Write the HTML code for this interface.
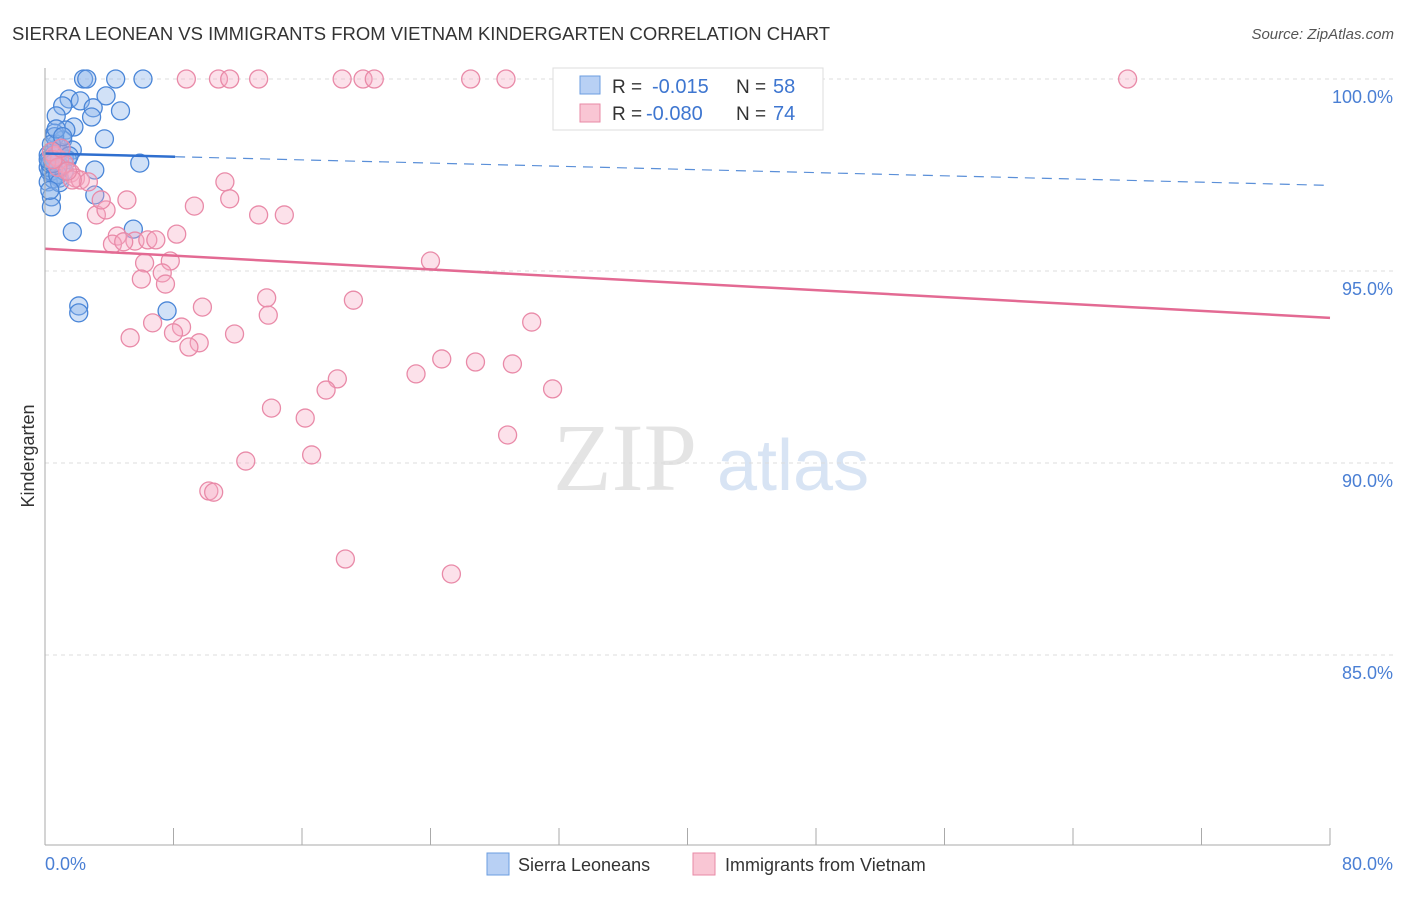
<!DOCTYPE html>
<html><head><meta charset="utf-8"><style>
body{margin:0;background:#fff;font-family:"Liberation Sans",sans-serif}
</style></head><body>
<svg width="1406" height="892" id="c" xmlns="http://www.w3.org/2000/svg" font-family="Liberation Sans, sans-serif">
<text x="12" y="40" font-size="18" fill="#333" textLength="818" lengthAdjust="spacingAndGlyphs">SIERRA LEONEAN VS IMMIGRANTS FROM VIETNAM KINDERGARTEN CORRELATION CHART</text>
<text x="1394" y="39" font-size="15" fill="#555" text-anchor="end" font-style="italic">Source: ZipAtlas.com</text>
<text x="553" y="490" font-size="96" fill="#e4e4e4" font-family="Liberation Serif, serif">ZIP</text>
<text x="717" y="490" font-size="72" fill="#d8e4f4">atlas</text>
<text x="34" y="456" font-size="18" fill="#333" transform="rotate(-90 34 456)" text-anchor="middle">Kindergarten</text>
<g id="grid"></g><g id="marks"></g>
<line x1="45" y1="68" x2="45" y2="845" stroke="#aaa"/>
<line x1="45" y1="845" x2="1330" y2="845" stroke="#aaa"/>
<text x="45" y="870" font-size="18" fill="#4a7fd4">0.0%</text>
<text x="1393" y="870" font-size="18" fill="#4a7fd4" text-anchor="end">80.0%</text>
<g>
<rect x="553" y="68" width="270" height="62" fill="#fff" stroke="#ddd"/>
<rect x="580" y="76" width="20" height="18" fill="#b8d0f4" stroke="#6b9ee0"/>
<rect x="580" y="104" width="20" height="18" fill="#f9c6d4" stroke="#e88aa6"/>
<text x="612" y="93" font-size="19" fill="#333">R =</text>
<text x="652" y="93" font-size="20" fill="#3e76d0">-0.015</text>
<text x="736" y="93" font-size="19" fill="#333">N =</text>
<text x="773" y="93" font-size="20" fill="#3e76d0">58</text>
<text x="612" y="120" font-size="19" fill="#333">R =</text>
<text x="646" y="120" font-size="20" fill="#3e76d0">-0.080</text>
<text x="736" y="120" font-size="19" fill="#333">N =</text>
<text x="773" y="120" font-size="20" fill="#3e76d0">74</text>
</g>
<g>
<rect x="487" y="853" width="22" height="22" fill="#b8d0f4" stroke="#6b9ee0"/>
<text x="518" y="871" font-size="18" fill="#333">Sierra Leoneans</text>
<rect x="693" y="853" width="22" height="22" fill="#f9c6d4" stroke="#e88aa6"/>
<text x="725" y="871" font-size="18" fill="#333">Immigrants from Vietnam</text>
</g>
</svg>
<script>
const yTicks=[100,95,90,85];
const yTickLabels=["100.0%","95.0%","90.0%","85.0%"];
const blueX=[2.4,2.6,4.4,6.1,3.8,1.5,2.2,1.1,3.0,4.7,0.7,2.9,1.8,1.3,0.6,3.7,1.1,0.6,1.7,0.2,1.2,5.9,3.1,0.3,0.6,0.9,0.2,3.1,0.4,0.4,5.5,1.7,2.1,2.1,7.6,0.3,0.5,0.8,1.0,0.4,0.7,0.9,1.4,0.2,0.5,0.6,1.0,1.2,0.3,0.8,0.4,1.5,0.7,0.2,0.9,1.1,0.5,0.3];
const blueY=[100,100,100,100,99.56,99.48,99.43,99.3,99.25,99.17,99.04,99.01,98.75,98.67,98.59,98.44,98.41,98.15,98.15,98.02,97.94,97.81,97.63,97.58,97.5,97.42,97.32,96.98,96.93,96.67,96.09,96.02,94.09,93.91,93.96,97.9,98.0,97.8,97.7,97.6,98.3,98.1,97.9,97.7,97.4,98.5,98.2,97.6,97.8,97.5,98.3,98.0,98.7,97.9,97.3,98.5,97.8,97.1];
const pinkX=[8.8,10.8,11.5,13.3,18.5,19.8,20.5,26.5,28.7,67.4,11.2,11.5,9.3,5.1,8.2,13.3,14.9,3.2,3.8,4.5,4.2,5.6,6.4,6.9,4.9,7.8,6.2,7.3,6.0,7.5,24.0,13.8,19.2,9.8,13.9,6.7,8.5,30.3,8.0,11.8,5.3,9.6,8.96,24.7,26.8,29.1,23.1,18.2,17.5,31.6,14.1,16.2,28.8,16.6,12.5,10.2,10.5,18.7,25.3,0.6,0.9,1.2,1.6,1.9,2.2,2.7,3.5,1.7,0.4,0.8,1.4,0.5,1.0];
const pinkY=[100,100,100,100,100,100,100,100,100,100,97.32,96.88,96.69,96.85,95.96,96.46,96.46,96.46,96.59,95.91,95.7,95.78,95.81,95.81,95.76,95.26,95.21,94.95,94.79,94.66,95.26,94.3,94.24,94.06,93.85,93.65,93.54,93.67,93.39,93.36,93.26,93.13,93.02,92.71,92.63,92.58,92.32,92.19,91.9,91.93,91.43,91.17,90.73,90.21,90.05,89.27,89.24,87.5,87.11,98.0,97.9,97.8,97.55,97.42,97.37,97.32,96.85,97.37,98.1,97.7,97.6,97.9,98.2];
const blueTrend=[98.06,97.23], blueSolidEnd=8.1;
const pinkTrend=[95.58,93.78];
const X=v=>45+v/80*1285, Y=v=>79+(100-v)*38.4;
const NS="http://www.w3.org/2000/svg";
function mk(tag,attrs,parent){const e=document.createElementNS(NS,tag);for(const k in attrs)e.setAttribute(k,attrs[k]);parent.appendChild(e);return e;}
const grid=document.getElementById('grid'),marks=document.getElementById('marks');
yTicks.forEach((t,i)=>{
 const l=mk('line',{x1:45,x2:1393,y1:Y(t),y2:Y(t),stroke:'#ddd','stroke-dasharray':'4 4'},grid);
 
 
 const tx=mk('text',{x:1393,y:Y(t)+24,'font-size':18,fill:'#4a7fd4','text-anchor':'end'},grid);
 tx.textContent=yTickLabels[i];
 
 
});
for(let k=1;k<=10;k++){
 const l=mk('line',{x1:X(k*8),x2:X(k*8),y1:828,y2:845,stroke:'#aaa'},grid);
 
 
}
blueX.forEach((x,i)=>{
 const c=mk('circle',{cx:X(x),cy:Y(blueY[i]),r:9,fill:'rgba(140,180,235,0.4)',stroke:'#4a86d8','stroke-width':1.3},marks);
 
 
});
pinkX.forEach((x,i)=>{
 const c=mk('circle',{cx:X(x),cy:Y(pinkY[i]),r:9,fill:'rgba(245,170,195,0.35)',stroke:'#e98aa8','stroke-width':1.3},marks);
 
 
});
const bAt=x=>blueTrend[0]+(blueTrend[1]-blueTrend[0])*x/80;
let l=mk('line',{x1:X(0),y1:Y(bAt(0)),x2:X(blueSolidEnd),y2:Y(bAt(blueSolidEnd)),stroke:'#2f6fcf','stroke-width':2.5},marks);


l=mk('line',{x1:X(blueSolidEnd),y1:Y(bAt(blueSolidEnd)),x2:X(80),y2:Y(bAt(80)),stroke:'#5a8fd8','stroke-width':1.2,'stroke-dasharray':'10 7'},marks);


l=mk('line',{x1:X(0),y1:Y(pinkTrend[0]),x2:X(80),y2:Y(pinkTrend[1]),stroke:'#e36a93','stroke-width':2.5},marks);


</script>
</body></html>
